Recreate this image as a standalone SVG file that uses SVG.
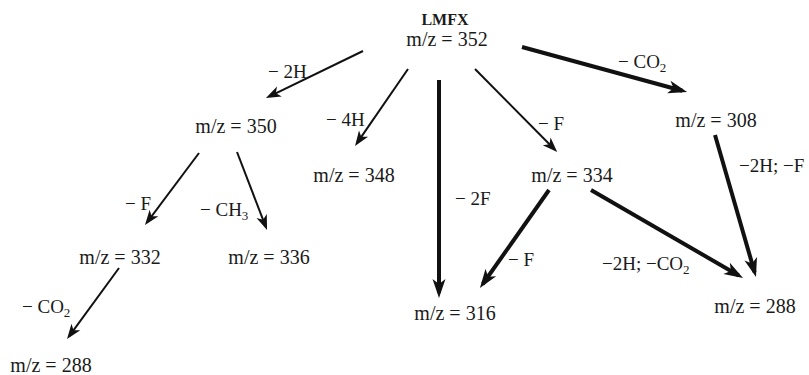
<svg xmlns="http://www.w3.org/2000/svg" width="809" height="375" viewBox="0 0 809 375">
<style>
text{font-family:"Liberation Serif","Times New Roman",serif;fill:#1a1a1a}
.n{font-size:20px;text-anchor:middle}
.l{font-size:19px}
.t{font-size:16px;font-weight:bold;text-anchor:middle}
.s{font-size:13px}
.thin{stroke:#111;stroke-width:2;fill:none;marker-end:url(#ah1)}
.thick{stroke:#111;stroke-width:4;fill:none;marker-end:url(#ah2)}
</style>
<defs>
<marker id="ah1" markerUnits="userSpaceOnUse" markerWidth="15" markerHeight="11" refX="11" refY="5.5" orient="auto" overflow="visible">
<path d="M0,0 L15,5.5 L0,11 L4,5.5 z" fill="#111"/>
</marker>
<marker id="ah2" markerUnits="userSpaceOnUse" markerWidth="19" markerHeight="13" refX="14" refY="6.5" orient="auto" overflow="visible">
<path d="M0,0 L19,6.5 L0,13 L5,6.5 z" fill="#111"/>
</marker>
</defs>
<g id="connectors">
<line class="thin" x1="363" y1="51" x2="269.5" y2="96.3"/>
<line class="thin" x1="408" y1="69" x2="357.3" y2="142.6"/>
<line class="thick" x1="439" y1="80" x2="439" y2="293"/>
<line class="thin" x1="475" y1="69" x2="554.4" y2="149.2"/>
<line class="thick" x1="522" y1="47" x2="682.3" y2="90.7"/>
<line class="thick" x1="715" y1="135" x2="754.6" y2="272.2"/>
<line class="thick" x1="549" y1="190" x2="482.8" y2="284"/>
<line class="thick" x1="591" y1="190" x2="738.7" y2="275.5"/>
<line class="thin" x1="199" y1="153" x2="147.4" y2="221.8"/>
<line class="thin" x1="237" y1="152" x2="265.6" y2="226.3"/>
<line class="thin" x1="119" y1="268" x2="69.4" y2="335.8"/>
</g>
<g id="labels">
<text class="l" x="268" y="78">− 2H</text>
<text class="l" x="326" y="126">− 4H</text>
<text class="l" x="455" y="205">− 2F</text>
<text class="l" x="538" y="130">− F</text>
<text class="l" x="618" y="68">− CO<tspan class="s" dy="4">2</tspan></text>
<text class="l" x="739" y="172">−2H; −F</text>
<text class="l" x="508" y="266">− F</text>
<text class="l" x="602" y="270">−2H; −CO<tspan class="s" dy="4">2</tspan></text>
<text class="l" x="125" y="210">− F</text>
<text class="l" x="200" y="216">− CH<tspan class="s" dy="4">3</tspan></text>
<text class="l" x="22" y="313">− CO<tspan class="s" dy="4">2</tspan></text>
</g>
<g id="n352"><text class="t" x="445" y="25">LMFX</text><text class="n" x="447" y="46">m/z = 352</text></g>
<g id="n350"><text class="n" x="236" y="133">m/z = 350</text></g>
<g id="n348"><text class="n" x="354" y="182">m/z = 348</text></g>
<g id="n308"><text class="n" x="716" y="127">m/z = 308</text></g>
<g id="n334"><text class="n" x="572" y="182">m/z = 334</text></g>
<g id="n332"><text class="n" x="120" y="264">m/z = 332</text></g>
<g id="n336"><text class="n" x="269" y="264">m/z = 336</text></g>
<g id="n288a"><text class="n" x="51" y="372">m/z = 288</text></g>
<g id="n316"><text class="n" x="455" y="320">m/z = 316</text></g>
<g id="n288b"><text class="n" x="755" y="313">m/z = 288</text></g>
</svg>
